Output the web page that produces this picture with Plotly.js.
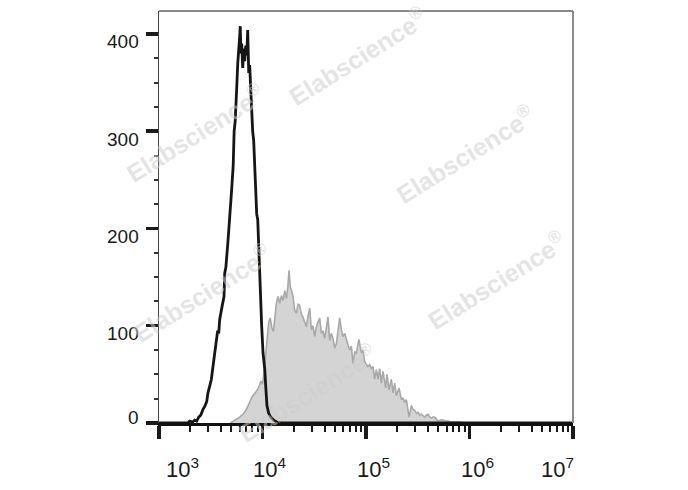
<!DOCTYPE html>
<html>
<head>
<meta charset="utf-8">
<script src="https://cdn.plot.ly/plotly-3.0.1.min.js"></script>
<style>html,body{margin:0;padding:0;background:#fff;}</style>
</head>
<body>
<div id="chart" style="width:688px;height:490px;"></div>
<script>
// Isotype control (black line): log10 fluorescence intensity, event count
const controlLogFL = [3.000,3.277,3.296,3.326,3.345,3.364,3.384,3.403,3.425,3.442,3.461,3.473,3.490,3.506,3.519,3.538,3.557,3.567,3.577,3.586,3.606,3.628,3.635,3.646,3.665,3.683,3.702,3.717,3.726,3.736,3.741,3.751,3.761,3.770,3.780,3.785,3.792,3.799,3.809,3.819,3.828,3.838,3.848,3.857,3.867,3.876,3.886,3.896,3.905,3.915,3.929,3.944,3.954,3.968,3.974,3.983,3.992,4.005,4.022,4.031,4.043,4.060,4.079,4.108,4.137,4.195,7.000];
const controlCount = [0,0,2,1,3,2,6,8,14,17,22,31,38,45,56,72,86,95,92,106,118,130,154,160,185,209,240,265,300,310,330,345,370,380,398,408,380,390,365,385,372,388,378,404,360,368,340,325,300,290,250,215,209,165,150,130,100,72,55,38,18,10,6,3,1,0,0];

// Stained sample (grey filled): log10 fluorescence intensity, event count
const sampleLogFL = [3.690,3.720,3.750,3.780,3.810,3.840,3.870,3.900,3.930,3.960,3.985,4.000,4.015,4.030,4.045,4.060,4.075,4.090,4.105,4.118,4.134,4.150,4.166,4.183,4.198,4.215,4.231,4.245,4.256,4.268,4.279,4.295,4.311,4.328,4.343,4.359,4.375,4.391,4.408,4.424,4.440,4.456,4.472,4.488,4.504,4.521,4.537,4.553,4.569,4.585,4.601,4.617,4.633,4.649,4.665,4.681,4.698,4.714,4.730,4.746,4.762,4.778,4.795,4.811,4.827,4.843,4.859,4.874,4.891,4.907,4.932,4.955,4.971,4.987,5.003,5.019,5.035,5.052,5.068,5.084,5.100,5.116,5.132,5.148,5.164,5.177,5.190,5.203,5.222,5.245,5.261,5.277,5.293,5.319,5.342,5.358,5.374,5.390,5.406,5.416,5.439,5.455,5.471,5.487,5.503,5.519,5.535,5.551,5.567,5.583,5.600,5.616,5.632,5.648,5.664,5.680,5.696,5.720,5.744,5.770,5.793,5.817,5.841,5.873,5.905,5.950];
const sampleCount = [0,2,4,6,9,13,20,27,31,36,43,40,52,68,88,104,108,98,94,110,123,130,123,131,126,136,128,140,157,140,137,130,116,113,122,121,112,109,104,99,110,118,96,100,89,99,104,108,92,95,87,96,109,85,92,87,77,82,95,108,96,89,92,85,80,75,79,61,73,72,86,72,75,63,60,58,60,56,58,45,55,45,56,41,53,44,36,50,34,45,31,41,28,36,24,26,21,24,14,6,18,14,13,10,11,8,9,7,6,8,9,6,5,6,6,4,2,3,3,2,2,1,1,1,1,0];

// Axis ticks and labels
const xMajorTicks = [1e3,1e4,1e5,1e6,1e7];
const xMinorTicks = [2e3,3e3,4e3,5e3,6e3,7e3,8e3,9e3,2e4,3e4,4e4,5e4,6e4,7e4,8e4,9e4,2e5,3e5,4e5,5e5,6e5,7e5,8e5,9e5,2e6,3e6,4e6,5e6,6e6,7e6,8e6,9e6];
const xTickExponents = [3,4,5,6,7];
const xTickLabels = ['10<sup>3</sup>','10<sup>4</sup>','10<sup>5</sup>','10<sup>6</sup>','10<sup>7</sup>'];
const yTickValues = [0,100,200,300,400];
const yTickLabels = ['0','100','200','300','400'];
const watermarkText = 'Elabscience<sup>®</sup>';

// styling / placement (not data)
const xLabelShift = [23,7,7.5,7.5,-16];
const yLabelShift = [6,-8,-8,-8,-8];
const wmPos = [[0.086,0.705],[0.480,0.890],[0.739,0.654],[0.816,0.346],[0.103,0.315],[0.357,0.074]];

const FONT = '"Liberation Sans", Arial, Helvetica, sans-serif';
const pow10 = v => Math.pow(10, v);

const traces = [
  {
    x: sampleLogFL.map(pow10), y: sampleCount, type: 'scatter', mode: 'lines',
    fill: 'tozeroy', fillcolor: '#d4d4d4',
    line: {color: '#a8a8a8', width: 1.6}, hoverinfo: 'skip'
  },
  {
    x: controlLogFL.map(pow10), y: controlCount, type: 'scatter', mode: 'lines',
    line: {color: '#151515', width: 2.8}, hoverinfo: 'skip'
  }
];

const annotations = [];
xTickExponents.forEach((e, i) => {
  annotations.push({
    xref: 'x', yref: 'paper', x: e, y: 0, xanchor: 'center', yanchor: 'top',
    xshift: xLabelShift[i], yshift: -29, showarrow: false,
    text: xTickLabels[i], font: {family: FONT, size: 22, color: '#1a1a1a'}
  });
});
yTickValues.forEach((v, i) => {
  annotations.push({
    xref: 'paper', yref: 'y', x: 0, y: v, xanchor: 'right', yanchor: 'middle',
    xshift: -18, yshift: yLabelShift[i], showarrow: false,
    text: yTickLabels[i], font: {family: FONT, size: 19, color: '#1a1a1a'}
  });
});
wmPos.forEach(p => {
  annotations.push({
    xref: 'paper', yref: 'paper', x: p[0], y: p[1], xanchor: 'center', yanchor: 'middle',
    showarrow: false, textangle: -32, text: watermarkText,
    font: {family: FONT, size: 25, color: 'rgba(205,205,205,0.55)', weight: 'bold'}
  });
});

const layout = {
  width: 688, height: 490,
  margin: {l: 159, r: 115, t: 11, b: 67, pad: 0},
  paper_bgcolor: '#ffffff', plot_bgcolor: '#ffffff',
  showlegend: false,
  font: {family: FONT, color: '#1a1a1a'},
  xaxis: {
    type: 'log', range: [3, 7], showgrid: false, zeroline: false,
    showline: true, linecolor: '#111111', linewidth: 3,
    tickmode: 'array', tickvals: xMajorTicks,
    ticks: 'outside', ticklen: 13, tickwidth: 3.5, tickcolor: '#1a1a1a',
    showticklabels: false,
    minor: {tickmode: 'array', tickvals: xMinorTicks, ticks: 'outside', ticklen: 6, tickwidth: 2, tickcolor: '#1a1a1a', showgrid: false}
  },
  yaxis: {
    range: [0, 423.6], showgrid: false, zeroline: false,
    showline: true, linecolor: '#444444', linewidth: 1.5,
    tickmode: 'array', tickvals: yTickValues,
    ticks: 'outside', ticklen: 12, tickwidth: 3.5, tickcolor: '#1a1a1a',
    showticklabels: false,
    minor: {dtick: 25, tick0: 0, ticks: 'outside', ticklen: 4, tickwidth: 2, tickcolor: '#333333', showgrid: false}
  },
  shapes: [
    {type: 'line', xref: 'paper', yref: 'paper', x0: 0, x1: 1, y0: 1, y1: 1, line: {color: '#8a8a8a', width: 2}},
    {type: 'line', xref: 'paper', yref: 'paper', x0: 1, x1: 1, y0: 0, y1: 1, line: {color: '#8a8a8a', width: 2}}
  ],
  annotations: annotations
};

Plotly.newPlot('chart', traces, layout, {displayModeBar: false, staticPlot: true});
</script>
</body>
</html>
